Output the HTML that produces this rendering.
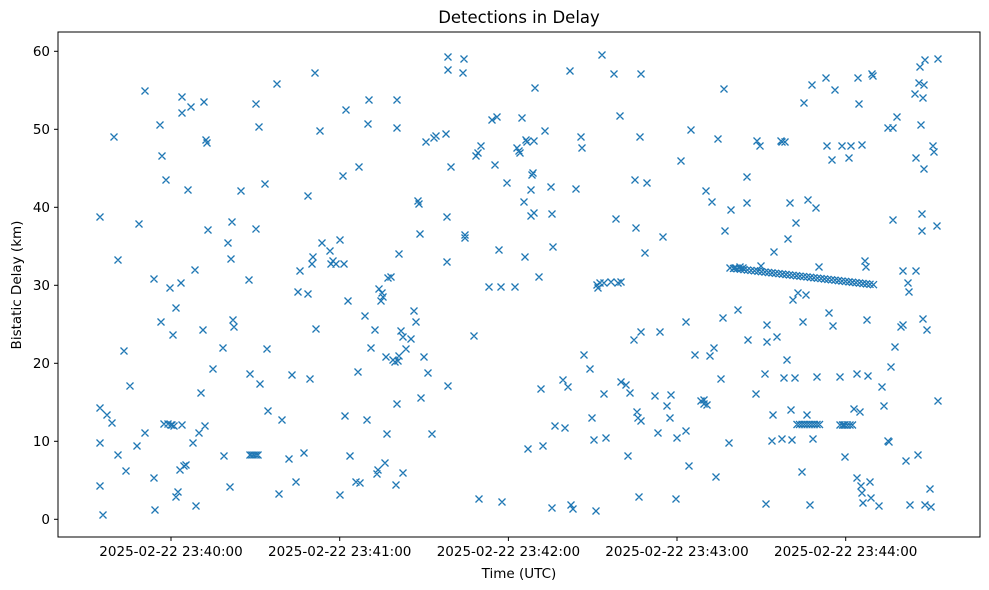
<!DOCTYPE html>
<html><head><meta charset="utf-8"><style>
html,body{margin:0;padding:0;background:#fff;}
svg{display:block;font-family:"DejaVu Sans","Liberation Sans",sans-serif;}
</style></head><body>
<svg id="s" width="989" height="590" viewBox="0 0 989 590" xmlns="http://www.w3.org/2000/svg">
<rect width="989" height="590" fill="#fff"/>
<text x="519" y="23" font-size="16.5" text-anchor="middle" fill="#000">Detections in Delay</text>
<g id="pts" stroke="#1f77b4" stroke-width="1.3" fill="none"></g>
<rect x="58" y="32" width="922" height="505" fill="none" stroke="#000" stroke-width="1"/>
<g font-size="13.5" fill="#000" text-anchor="end">
<line x1="58" x2="54" y1="519.3" y2="519.3" stroke="#000"/><text x="50" y="524">0</text>
<line x1="58" x2="54" y1="441.3" y2="441.3" stroke="#000"/><text x="50" y="446">10</text>
<line x1="58" x2="54" y1="363.3" y2="363.3" stroke="#000"/><text x="50" y="368">20</text>
<line x1="58" x2="54" y1="285.3" y2="285.3" stroke="#000"/><text x="50" y="290">30</text>
<line x1="58" x2="54" y1="207.3" y2="207.3" stroke="#000"/><text x="50" y="212">40</text>
<line x1="58" x2="54" y1="129.3" y2="129.3" stroke="#000"/><text x="50" y="134">50</text>
<line x1="58" x2="54" y1="51.3" y2="51.3" stroke="#000"/><text x="50" y="56">60</text>
</g>
<g font-size="13.5" fill="#000" text-anchor="middle">
<line x1="171" x2="171" y1="537" y2="541" stroke="#000"/><text x="171" y="556">2025-02-22 23:40:00</text>
<line x1="339.7" x2="339.7" y1="537" y2="541" stroke="#000"/><text x="339.7" y="556">2025-02-22 23:41:00</text>
<line x1="508.4" x2="508.4" y1="537" y2="541" stroke="#000"/><text x="508.4" y="556">2025-02-22 23:42:00</text>
<line x1="677" x2="677" y1="537" y2="541" stroke="#000"/><text x="677" y="556">2025-02-22 23:43:00</text>
<line x1="845.7" x2="845.7" y1="537" y2="541" stroke="#000"/><text x="845.7" y="556">2025-02-22 23:44:00</text>
<text x="519" y="578">Time (UTC)</text>
<text transform="translate(21,285) rotate(-90)">Bistatic Delay (km)</text>
</g>
</svg>
<script>
var P=[[100,217],[100,408],[100,443],[100,486],[103,515],[107,415],[112,423],[114,137],[118,260],[118,455],[124,351],[126,471],[130,386],[137,446],[139,224],[145,91],[145,433],[154,279],[154,478],[155,510],[160,125],[161,322],[162,156],[164,424],[166,180],[168,424],[170,288],[171,425],[172,425],[173,335],[174,426],[176,308],[176,497],[178,492],[180,470],[181,283],[182,97],[182,113],[182,425],[184,466],[186,465],[188,190],[191,107],[193,443],[195,270],[196,506],[199,433],[201,393],[203,330],[204,102],[205,426],[206,140],[207,143],[208,230],[213,369],[223,348],[224,456],[228,243],[230,487],[231,259],[232,222],[233,320],[234,327],[241,191],[249,280],[250,374],[250,455],[252,455],[254,455],[256,455],[258,455],[256,104],[256,229],[259,127],[260,384],[265,184],[267,349],[268,411],[277,84],[279,494],[282,420],[289,459],[292,375],[296,482],[298,292],[300,271],[304,453],[308,196],[308,294],[310,379],[312,264],[313,257],[315,73],[316,329],[320,131],[322,243],[330,251],[331,264],[333,261],[336,264],[340,240],[340,495],[343,176],[344,264],[345,416],[346,110],[348,301],[350,456],[356,482],[358,372],[359,167],[360,483],[365,316],[367,420],[368,124],[369,100],[371,348],[375,330],[377,474],[378,470],[379,289],[381,301],[382,293],[383,297],[385,463],[386,357],[387,434],[388,278],[391,277],[393,360],[395,362],[396,485],[397,404],[397,128],[397,100],[398,361],[399,254],[399,356],[401,331],[403,473],[403,337],[406,349],[411,339],[414,311],[416,322],[418,201],[419,204],[420,234],[421,398],[424,357],[426,142],[428,373],[432,434],[434,138],[436,136],[446,134],[447,217],[447,262],[448,386],[448,57],[448,70],[451,167],[463,73],[464,59],[465,235],[465,238],[474,336],[476,156],[478,153],[479,499],[481,146],[489,287],[492,120],[495,165],[497,117],[499,250],[501,287],[502,502],[507,183],[515,287],[517,148],[519,151],[520,153],[522,118],[524,202],[525,257],[526,140],[527,142],[528,449],[531,216],[531,190],[532,175],[533,173],[534,141],[534,213],[535,88],[539,277],[541,389],[543,446],[545,131],[551,187],[552,214],[553,247],[552,508],[555,426],[563,380],[565,428],[568,387],[570,71],[571,505],[573,509],[576,189],[581,137],[582,148],[584,355],[590,369],[592,418],[594,440],[596,511],[597,285],[598,288],[600,283],[602,55],[604,283],[604,394],[606,438],[611,282],[614,74],[616,219],[618,283],[620,116],[621,282],[621,382],[626,385],[628,456],[630,393],[634,340],[635,180],[636,228],[637,412],[638,418],[639,497],[640,137],[641,421],[641,74],[641,332],[645,253],[647,183],[655,396],[658,433],[660,332],[663,237],[667,406],[670,418],[671,395],[676,499],[677,438],[681,161],[686,322],[686,431],[689,466],[691,130],[695,355],[701,401],[704,400],[704,404],[706,191],[707,405],[710,356],[712,202],[714,348],[716,477],[718,139],[721,379],[723,318],[724,89],[725,231],[729,443],[731,210],[735,268],[738,310],[740,267],[743,268],[747,177],[747,203],[748,340],[756,394],[757,141],[760,146],[761,266],[765,374],[766,504],[767,325],[767,342],[772,441],[773,415],[774,252],[777,337],[781,141],[782,439],[782,142],[784,378],[785,142],[787,360],[788,239],[790,203],[791,410],[792,440],[793,300],[795,378],[796,223],[798,293],[802,472],[803,322],[804,103],[806,295],[807,415],[808,200],[810,505],[812,85],[813,439],[816,208],[817,377],[819,267],[826,78],[827,146],[829,313],[832,160],[833,326],[835,90],[840,377],[842,146],[844,425],[845,457],[849,158],[851,146],[854,409],[857,374],[857,478],[858,78],[859,104],[860,412],[861,486],[862,145],[862,493],[863,503],[865,261],[866,267],[867,320],[868,376],[870,482],[871,498],[872,74],[873,76],[879,506],[882,387],[884,406],[888,128],[888,441],[889,442],[891,367],[893,220],[893,128],[895,347],[897,117],[901,327],[903,271],[903,325],[906,461],[908,283],[909,292],[910,505],[915,94],[916,158],[916,271],[918,455],[919,83],[920,67],[921,125],[922,231],[922,214],[923,319],[923,98],[924,169],[924,85],[925,60],[925,505],[927,330],[930,489],[931,507],[933,146],[934,152],[937,226],[938,59],[938,401]];
for(var x=730;x<=876;x+=3.5){P.push([x,268+(x-730)*17/146]);}
for(var x=797;x<=820;x+=2.5){P.push([x,424.5]);}
for(var x=840;x<=853;x+=2.5){P.push([x,425]);}
var g=document.getElementById('pts'),d='';
P.forEach(function(p){var a=p[0],b=p[1],r=3.5;d+='M'+(a-r)+' '+(b-r)+'L'+(a+r)+' '+(b+r)+'M'+(a-r)+' '+(b+r)+'L'+(a+r)+' '+(b-r);});
var e=document.createElementNS('http://www.w3.org/2000/svg','path');e.setAttribute('d',d);g.appendChild(e);
</script>
</body></html>
